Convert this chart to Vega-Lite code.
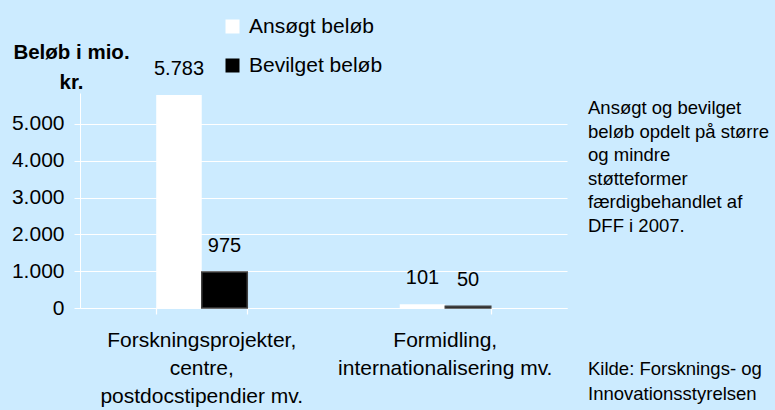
{
  "$schema": "https://vega.github.io/schema/vega-lite/v6.json",
  "autosize": {"type": "none"},
  "padding": {"left": 80, "top": 93, "right": 208, "bottom": 102},
  "width": 487,
  "height": 215,
  "background": "#ccebff",
  "data": {
    "values": [
      {"kategori": "Forskningsprojekter, centre, postdocstipendier mv.", "serie": "Ansøgt beløb", "belob": 5783},
      {"kategori": "Forskningsprojekter, centre, postdocstipendier mv.", "serie": "Bevilget beløb", "belob": 975},
      {"kategori": "Formidling, internationalisering mv.", "serie": "Ansøgt beløb", "belob": 101},
      {"kategori": "Formidling, internationalisering mv.", "serie": "Bevilget beløb", "belob": 50}
    ]
  },
  "title": {
    "text": ["Ansøgt og bevilget", "beløb opdelt på større", "og mindre", "støtteformer", "færdigbehandlet af", "DFF i 2007."],
    "subtitle": ["Kilde: Forsknings- og", "Innovationsstyrelsen"],
    "orient": "bottom",
    "anchor": "start",
    "frame": "group",
    "dx": 508,
    "dy": -307,
    "offset": 0,
    "font": "Liberation Sans",
    "fontSize": 18.5,
    "fontWeight": "normal",
    "lineHeight": 23.6,
    "color": "#000000",
    "subtitleFont": "Liberation Sans",
    "subtitleFontSize": 18.5,
    "subtitleLineHeight": 25,
    "subtitleColor": "#000000",
    "subtitlePadding": 124
  },
  "encoding": {
    "xOffset": {"field": "serie", "type": "nominal", "sort": ["Ansøgt beløb", "Bevilget beløb"], "scale": {"paddingInner": 0, "paddingOuter": 0}},
    "y": {
      "field": "belob",
      "type": "quantitative",
      "scale": {"domain": [0, 5840], "nice": false},
      "axis": {
        "values": [0, 1000, 2000, 3000, 4000, 5000],
        "format": ",d",
        "labelFont": "Liberation Sans",
        "labelFontSize": 21,
        "labelColor": "#000000",
        "labelPadding": 10,
        "tickColor": "#ffffff",
        "tickSize": 6,
        "domainColor": "#ffffff",
        "gridColor": "#ffffff",
        "gridWidth": 1.2,
        "title": ["Beløb i mio.", "kr."],
        "titleAngle": 0,
        "titleAlign": "center",
        "titleBaseline": "middle",
        "titleFont": "Liberation Sans",
        "titleFontSize": 20.5,
        "titleFontWeight": "bold",
        "titleLineHeight": 30,
        "titleColor": "#000000",
        "titleX": -9,
        "titleY": -41
      }
    }
  },
  "layer": [
    {
      "mark": {"type": "bar", "strokeWidth": 1.5},
      "encoding": {
        "x": {
          "field": "kategori",
          "type": "nominal",
          "sort": null,
          "scale": {"paddingInner": 0.626, "paddingOuter": 0.313},
          "axis": {
            "orient": "bottom",
            "title": null,
            "labelAngle": 0,
            "labelExpr": "datum.value == 'Formidling, internationalisering mv.' ? ['Formidling,', 'internationalisering mv.'] : ['Forskningsprojekter,', 'centre,', 'postdocstipendier mv.']",
            "labelFont": "Liberation Sans",
            "labelFontSize": 21,
            "labelLineHeight": 28,
            "labelColor": "#000000",
            "labelPadding": 21,
            "labelLimit": 300,
            "ticks": false,
            "domainColor": "#ffffff",
            "grid": false
          }
        },
        "color": {
          "field": "serie",
          "type": "nominal",
          "sort": ["Ansøgt beløb", "Bevilget beløb"],
          "scale": {"range": ["#ffffff", "#000000"]},
          "legend": {
            "title": null,
            "orient": "none",
            "legendX": 142,
            "legendY": -77,
            "symbolType": "square",
            "symbolSize": 196,
            "symbolStrokeWidth": 0,
            "labelFont": "Liberation Sans",
            "labelFontSize": 21,
            "labelColor": "#000000",
            "labelOffset": 6,
            "rowPadding": 17,
            "labelLimit": 300
          }
        },
        "stroke": {
          "condition": {"test": "datum.serie === 'Bevilget beløb'", "value": "#404040"},
          "value": "transparent"
        }
      }
    },
    {
      "mark": {"type": "text", "baseline": "bottom", "dy": -16, "font": "Liberation Sans", "fontSize": 20, "color": "#000000"},
      "encoding": {
        "x": {
          "field": "kategori",
          "type": "nominal",
          "sort": null,
          "axis": {
            "orient": "bottom",
            "title": null,
            "labels": false,
            "tickBand": "extent",
            "tickColor": "#ffffff",
            "tickWidth": 1.2,
            "tickSize": 6,
            "domain": false,
            "grid": false
          }
        },
        "text": {"field": "belob", "type": "quantitative", "format": ",d"}
      }
    }
  ],
  "resolve": {"axis": {"x": "independent"}},
  "config": {
    "view": {"stroke": null},
    "locale": {"number": {"decimal": ",", "thousands": ".", "grouping": [3], "currency": ["", " kr."]}}
  }
}
